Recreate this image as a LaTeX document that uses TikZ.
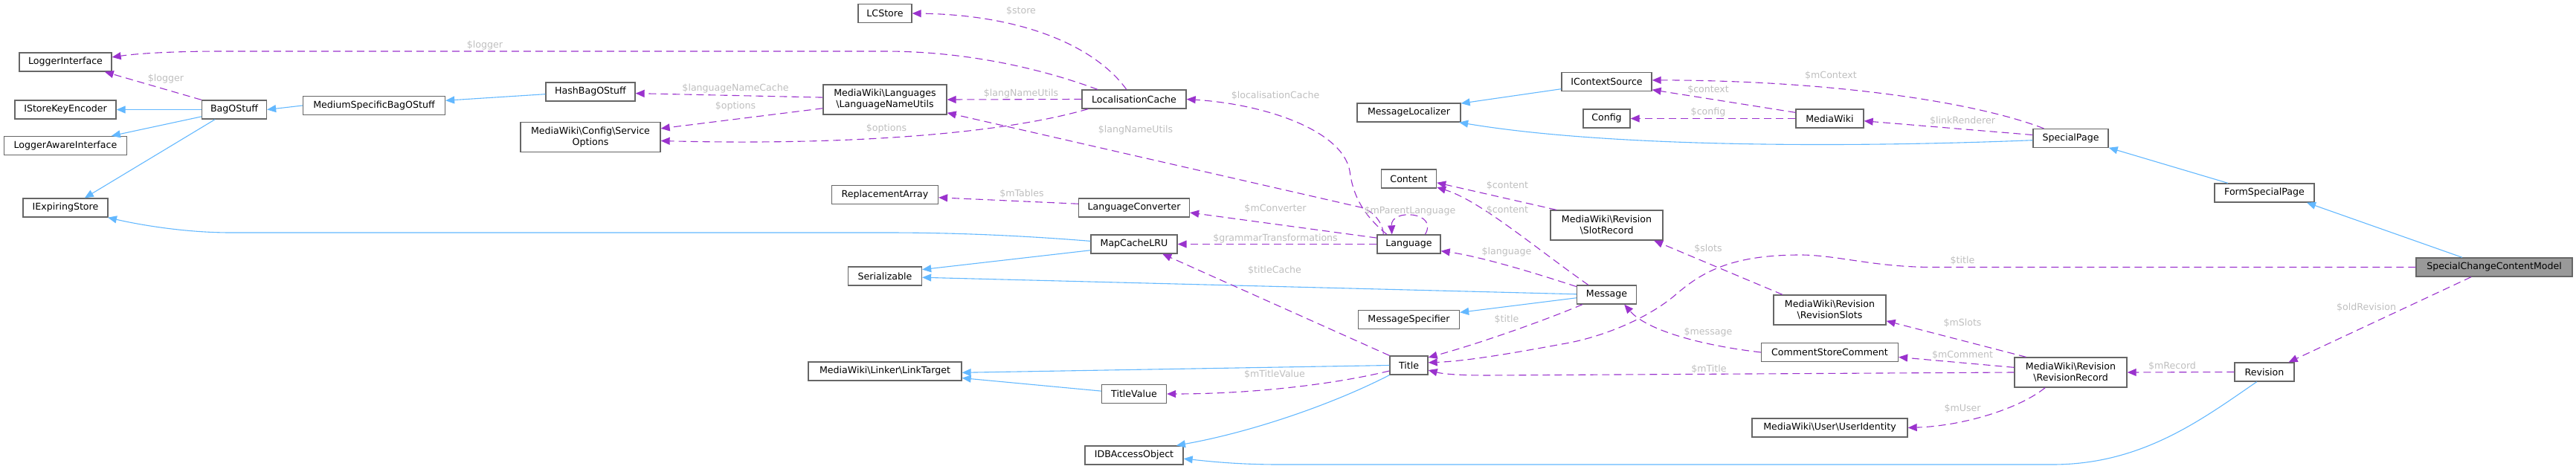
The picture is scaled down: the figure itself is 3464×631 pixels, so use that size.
\documentclass[tikz,border=0pt]{standalone}
\usepackage{fontspec}
\setmainfont{DejaVu Sans}
\usetikzlibrary{arrows.meta}
\definecolor{boxgray}{HTML}{666666}
\definecolor{maingray}{HTML}{999999}
\definecolor{inhblue}{HTML}{63B8FF}
\definecolor{usepurple}{HTML}{9A32CD}
\definecolor{lblgray}{HTML}{BEBEBE}
\def\bsl{\textbackslash}
\tikzset{
	cls/.style={draw=boxgray, fill=white, line width=1.3pt, inner sep=0pt, minimum height=25pt, align=center, font=\fontsize{12.6}{15}\selectfont},
	clstwo/.style={cls, minimum height=40pt},
	inhline/.style={draw=inhblue, line width=1.1pt, -{Triangle[length=12pt,width=10pt]}},
	useline/.style={draw=usepurple, line width=1.1pt, dash pattern=on 10pt off 6pt, -{Triangle[length=12pt,width=10pt]}},
	lbl/.style={text=lblgray, inner sep=0pt, font=\fontsize{12.6}{15}\selectfont}
}

\begin{document}
\begin{tikzpicture}[x=1pt, y=-1pt]
		%%%%% START %%%%%
		\useasboundingbox (0,0) rectangle (3464,631);
		
		\node[cls, minimum width=124pt] (loggerif) at (88,83.5) {LoggerInterface};
		\node[cls, minimum width=136pt] (storekey) at (88,147.5) {IStoreKeyEncoder};
		\node[cls, minimum width=165pt] (loggeraware) at (88,196) {LoggerAwareInterface};
		\node[cls, minimum width=114pt] (expiring) at (88,279.5) {IExpiringStore};
		\node[cls, minimum width=87pt] (bag) at (315,147.5) {BagOStuff};
		\node[cls, minimum width=191pt] (medium) at (503,142) {MediumSpecificBagOStuff};
		
		\node[cls, minimum width=120pt] (hashbag) at (794,123.5) {HashBagOStuff};
		\node[clstwo, minimum width=188pt] (svcopts) at (794,184.5) {MediaWiki\bsl Config\bsl Service\\Options};
		
		\node[cls, minimum width=72pt] (lcstore) at (1190,18) {LCStore};
		\node[clstwo, minimum width=166pt] (langnames) at (1190,134) {MediaWiki\bsl Languages\\\bsl LanguageNameUtils};
		\node[cls, minimum width=143pt] (replarr) at (1190,262) {ReplacementArray};
		\node[cls, minimum width=99pt] (serial) at (1190,371.5) {Serializable};
		\node[cls, minimum width=206pt] (linktarget) at (1190,499.5) {MediaWiki\bsl Linker\bsl LinkTarget};
		
		\node[cls, minimum width=140pt] (lcache) at (1525,133.5) {LocalisationCache};
		\node[cls, minimum width=149pt] (langconv) at (1525,279.5) {LanguageConverter};
		\node[cls, minimum width=116pt] (mapcache) at (1525,328.5) {MapCacheLRU};
		\node[cls, minimum width=87pt] (titlevalue) at (1525,530) {TitleValue};
		\node[cls, minimum width=132pt] (dbaccess) at (1525,612.5) {IDBAccessObject};
		
		\node[cls, minimum width=139pt] (msgloc) at (1894.5,151.5) {MessageLocalizer};
		\node[cls, minimum width=74pt] (content) at (1894.5,240.5) {Content};
		\node[cls, minimum width=85pt] (language) at (1894.5,328.5) {Language};
		\node[cls, minimum width=136pt] (msgspec) at (1894.5,430) {MessageSpecifier};
		\node[cls, minimum width=51pt] (title) at (1894.5,491.5) {Title};
		
		\node[cls, minimum width=121pt] (ctxsrc) at (2160.5,110) {IContextSource};
		\node[cls, minimum width=63pt] (config) at (2160.5,159.5) {Config};
		\node[clstwo, minimum width=151pt] (slotrec) at (2160.5,303) {MediaWiki\bsl Revision\\\bsl SlotRecord};
		\node[cls, minimum width=80pt] (message) at (2160.5,396.5) {Message};
		
		\node[cls, minimum width=91pt] (mediawiki) at (2460.5,159.5) {MediaWiki};
		\node[clstwo, minimum width=151pt] (revslots) at (2460.5,417) {MediaWiki\bsl Revision\\\bsl RevisionSlots};
		\node[cls, minimum width=184pt] (comment) at (2460.5,474) {CommentStoreComment};
		\node[cls, minimum width=209pt] (userident) at (2460.5,575.5) {MediaWiki\bsl User\bsl UserIdentity};
		
		\node[cls, minimum width=101pt] (specialpage) at (2784.5,186) {SpecialPage};
		\node[clstwo, minimum width=151pt] (revrecord) at (2784.5,501) {MediaWiki\bsl Revision\\\bsl RevisionRecord};
		\node[cls, minimum width=134pt] (formspecial) at (3045,259.5) {FormSpecialPage};
		\node[cls, minimum width=80pt] (revision) at (3045,500.5) {Revision};
		\node[cls, minimum width=210pt, fill=maingray] (sccm) at (3354,359.5) {SpecialChangeContentModel};
		
		% inheritance
		\draw[inhline] (bag.west) -- (storekey.east);
		\draw[inhline] (bag.192) -- (loggeraware.12);
		\draw[inhline] (bag.207.5) -- (expiring.27.5);
		\draw[inhline] (medium.west) -- (bag.east);
		\draw[inhline] (hashbag.183) -- (medium.4);
		\draw[inhline] (mapcache.176) .. controls (1350,315) and (1260,313) .. (1190,313) -- (310,313) .. controls (250,313) and (190,303) .. (expiring.-13.5);
		\draw[inhline] (mapcache.188) -- (serial.10);
		\draw[inhline] (message.179) -- (serial.-2);
		\draw[inhline] (message.186) -- (msgspec.8);
		\draw[inhline] (title.west) -- (linktarget.-1);
		\draw[inhline] (titlevalue.175) -- (linktarget.-5);
		\draw[inhline] (title.south west) .. controls (1790,545) and (1680,582) .. (dbaccess.13);
		\draw[inhline] (revision.232) .. controls (2960,565) and (2880,625) .. (2760,625) -- (1720,625) .. controls (1660,625) and (1620,620) .. (dbaccess.-4);
		\draw[inhline] (ctxsrc.189) -- (msgloc.10);
		\draw[inhline] (specialpage.183) .. controls (2450,200) and (2150,196) .. (msgloc.-11);
		\draw[inhline] (formspecial.165) -- (specialpage.-14);
		\draw[inhline] (sccm.163) -- (formspecial.-13);
		
		% members
		\draw[useline] (lcache.165) .. controls (1380,85) and (1280,69) .. (1190,69) -- (300,69) .. controls (230,69) and (185,72) .. (loggerif.6);
		\draw[useline] (bag.north west) -- (loggerif.-14);
		\draw[useline] (lcache.128) .. controls (1475,65) and (1380,20) .. (lcstore.east);
		\draw[useline] (langnames.178) -- (hashbag.-2);
		\draw[useline] (langnames.188) -- (svcopts.7.6);
		\draw[useline] (lcache.west) -- (langnames.east);
		\draw[useline] (lcache.192) .. controls (1330,185) and (1100,195) .. (svcopts.-3);
		\draw[useline] (language.159.5) .. controls (1860,300) and (1846,283) .. (1830,279) -- (langnames.-12);
		\draw[useline] (language.156) .. controls (1840,295) and (1820,270) .. (1815,230) .. controls (1805,175) and (1700,140) .. (lcache.east);
		\draw[useline] (language.31) .. controls (1935,285) and (1870,280) .. (language.150);
		\draw[useline] (language.169) -- (langconv.-5.5);
		\draw[useline] (language.west) -- (mapcache.east);
		\draw[useline] (langconv.176.6) -- (replarr.-3);
		\draw[useline] (title.north west) -- (mapcache.-19);
		\draw[useline] (title.196) .. controls (1790,518) and (1680,530) .. (titlevalue.east);
		\draw[useline] (message.152) .. controls (2060,330) and (1990,270) .. (content.-17);
		\draw[useline] (slotrec.163.5) -- (content.-8.6);
		\draw[useline] (message.165) .. controls (2060,366) and (1990,345) .. (language.-12.6);
		\draw[useline] (message.202) .. controls (2080,430) and (1990,462) .. (title.22);
		\draw[useline] (sccm.west) -- (2600,359.5) .. controls (2520,359.5) and (2470,343) .. (2421,343) .. controls (2330,343) and (2290,365) .. (2255,395) .. controls (2215,430) and (2150,455) .. (2100,463) .. controls (2030,476) and (1970,486) .. (title.8);
		\draw[useline] (revrecord.west) -- (2000,505) .. controls (1960,505) and (1940,503) .. (title.-14);
		\draw[useline] (revslots.162) -- (slotrec.-18.6);
		\draw[useline] (comment.west) .. controls (2290,465) and (2215,445) .. (message.-29);
		\draw[useline] (revrecord.161) -- (revslots.-11);
		\draw[useline] (revrecord.175) -- (comment.-4.7);
		\draw[useline] (revrecord.211.6) .. controls (2715,550) and (2640,573) .. (userident.east);
		\draw[useline] (revision.west) -- (revrecord.east);
		\draw[useline] (sccm.203) -- (revision.22.6);
		\draw[useline] (mediawiki.170.6) -- (ctxsrc.-10);
		\draw[useline] (mediawiki.west) -- (config.east);
		\draw[useline] (specialpage.160) .. controls (2650,135) and (2450,108) .. (ctxsrc.2.4);
		\draw[useline] (specialpage.175.5) -- (mediawiki.-4.8);
		
		% labels
		\node[lbl] (l-logger-lc) at (652,61) {\$logger};
		\node[lbl] (l-logger-bag) at (223,106) {\$logger};
		\node[lbl] (l-store) at (1373,15) {\$store};
		\node[lbl] (l-langcache) at (989,119) {\$languageNameCache};
		\node[lbl] (l-options-lnu) at (989,143) {\$options};
		\node[lbl] (l-lnu-lc) at (1373,126) {\$langNameUtils};
		\node[lbl] (l-options-lc) at (1192,173) {\$options};
		\node[lbl] (l-lnu-lang) at (1527,175) {\$langNameUtils};
		\node[lbl] (l-lcache) at (1715,129) {\$localisationCache};
		\node[lbl] (l-conv) at (1715,281) {\$mConverter};
		\node[lbl] (l-parent) at (1896,284) {\$mParentLanguage};
		\node[lbl] (l-grammar) at (1715,321) {\$grammarTransformations};
		\node[lbl] (l-tables) at (1374,261) {\$mTables};
		\node[lbl] (l-titlecache) at (1714,364) {\$titleCache};
		\node[lbl] (l-titlevalue) at (1714,504) {\$mTitleValue};
		\node[lbl] (l-content-msg) at (2027,283) {\$content};
		\node[lbl] (l-content-slot) at (2027,250) {\$content};
		\node[lbl] (l-language) at (2026,339) {\$language};
		\node[lbl] (l-title-msg) at (2026,430) {\$title};
		\node[lbl] (l-title-sccm) at (2639,351) {\$title};
		\node[lbl] (l-mtitle) at (2298,497) {\$mTitle};
		\node[lbl] (l-slots) at (2297,335) {\$slots};
		\node[lbl] (l-message) at (2297,447) {\$message};
		\node[lbl] (l-mslots) at (2639,435) {\$mSlots};
		\node[lbl] (l-mcomment) at (2639,478) {\$mComment};
		\node[lbl] (l-muser) at (2639,550) {\$mUser};
		\node[lbl] (l-mrecord) at (2921,493) {\$mRecord};
		\node[lbl] (l-oldrev) at (3182,414) {\$oldRevision};
		\node[lbl] (l-context) at (2297,121) {\$context};
		\node[lbl] (l-config) at (2297,151) {\$config};
		\node[lbl] (l-mcontext) at (2462,102) {\$mContext};
		\node[lbl] (l-linkrend) at (2639,163) {\$linkRenderer};
		
		%%%%% END %%%%%
\end{tikzpicture}
\end{document}
